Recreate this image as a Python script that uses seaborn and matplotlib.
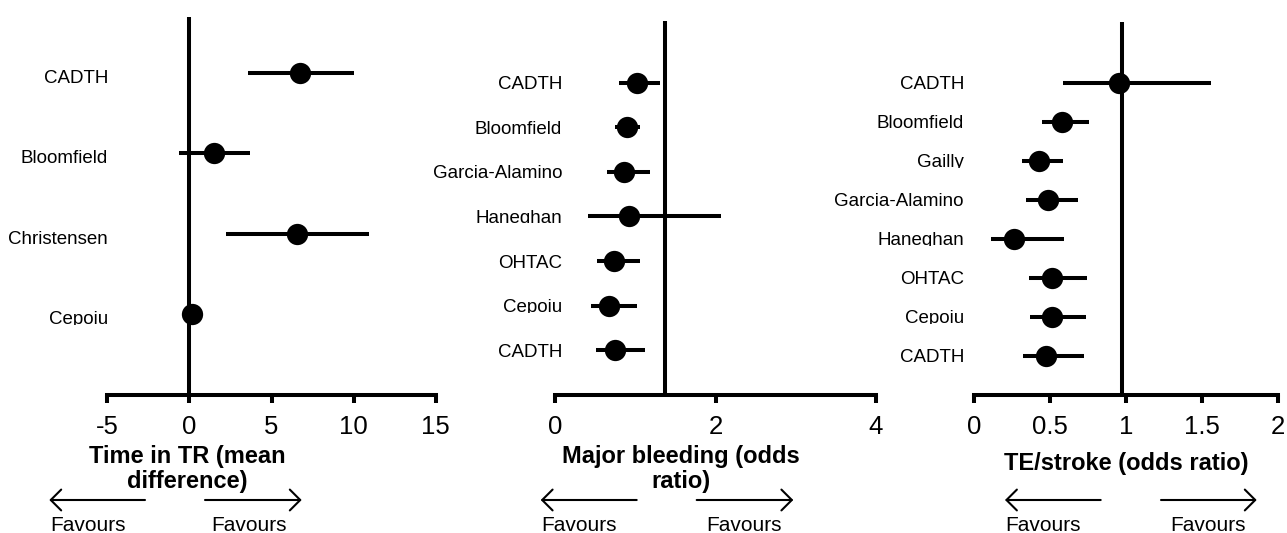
import matplotlib
matplotlib.use("Agg")
import matplotlib.pyplot as plt
import seaborn as sns
from matplotlib.transforms import blended_transform_factory, ScaledTranslation, Bbox, IdentityTransform

# ---------------- data ----------------
tr_studies = ["CADTH", "Bloomfield", "Christensen", "Cepoiu"]
tr_est = [6.76, 1.48, 6.56, 0.16]
tr_lo = [3.55, -0.65, 2.21, -0.30]
tr_hi = [10.05, 3.71, 10.92, 0.60]
tr_ticks = [-5, 0, 5, 10, 15]
tr_ref = 0
tr_label = "Time in TR (mean\ndifference)"

mb_studies = ["CADTH", "Bloomfield", "Garcia-Alamino", "Haneghan", "OHTAC", "Cepoiu", "CADTH"]
mb_est = [1.018, 0.893, 0.864, 0.926, 0.739, 0.677, 0.748]
mb_lo = [0.798, 0.748, 0.644, 0.415, 0.520, 0.449, 0.507]
mb_hi = [1.308, 1.059, 1.184, 2.069, 1.059, 1.018, 1.121]
mb_ticks = [0, 2, 4]
mb_ref = 1.371
mb_label = "Major bleeding (odds\nratio)"

te_studies = ["CADTH", "Bloomfield", "Gailly", "Garcia-Alamino", "Haneghan", "OHTAC", "Cepoiu", "CADTH"]
te_est = [0.955, 0.577, 0.429, 0.485, 0.263, 0.511, 0.511, 0.473]
te_lo = [0.583, 0.445, 0.314, 0.342, 0.112, 0.364, 0.370, 0.320]
te_hi = [1.556, 0.756, 0.583, 0.686, 0.594, 0.745, 0.736, 0.725]
te_ticks = [0, 0.5, 1, 1.5, 2]
te_ref = 0.975
te_label = "TE/stroke (odds ratio)"

favours_text = "Favours"

# ---------------- style ----------------
sns.set_style("white")
plt.rcParams["font.family"] = ["Liberation Sans", "DejaVu Sans"]
plt.rcParams["text.color"] = "black"
plt.rcParams["axes.labelcolor"] = "black"
plt.rcParams["xtick.color"] = "black"

W, H = 1287, 533
fig = plt.figure(figsize=(W / 100, H / 100), dpi=100)

# panel layout in pixels: (left, right, top, bottom), ylim margins, label offsets
panels = [
    dict(studies=tr_studies, est=tr_est, lo=tr_lo, hi=tr_hi, ticks=tr_ticks, ref=tr_ref,
         label=tr_label, box=(107.3, 435.7, 17, 395), top_m=0.69, bot_m=1.0,
         lab_dx=0.7, lab_dy=10, xl_x=187.5, xl_base=488,
         arrows=((145, 49.3), (205, 301.7)), fav=(50, 211.7)),
    dict(studies=mb_studies, est=mb_est, lo=mb_lo, hi=mb_hi, ticks=mb_ticks, ref=mb_ref,
         label=mb_label, box=(555, 876, 21, 395), top_m=1.38, bot_m=1.0,
         lab_dx=7, lab_dy=6.5, xl_x=681, xl_base=488,
         arrows=((636.7, 540.7), (696.7, 793.3)), fav=(541.7, 706.7)),
    dict(studies=te_studies, est=te_est, lo=te_lo, hi=te_hi, ticks=te_ticks, ref=te_ref,
         label=te_label, box=(974, 1278.3, 22, 395), top_m=1.57, bot_m=1.0,
         lab_dx=-10, lab_dy=6, xl_x=1126, xl_base=470,
         arrows=((1100.7, 1005), (1161, 1256.7)), fav=(1005, 1170.7)),
]

LW = 2.9  # ~4 px

for p in panels:
    l, r, t, b = p["box"]
    ax = fig.add_axes([l / W, (H - b) / H, (r - l) / W, (b - t) / H])
    n = len(p["studies"])
    pos = list(range(n))

    ax.hlines(pos, p["lo"], p["hi"], color="black", linewidth=LW, zorder=2)
    sns.scatterplot(x=p["est"], y=pos, ax=ax, s=235, color="black",
                    linewidth=0, zorder=3, legend=False)
    ax.axvline(p["ref"], color="black", linewidth=LW, zorder=1)

    ax.set_xlim(p["ticks"][0], p["ticks"][-1])
    ax.set_ylim(n - 1 + p["bot_m"], -p["top_m"])
    ax.set_xticks(p["ticks"])
    ax.set_xticklabels([f"{v:g}" for v in p["ticks"]])
    ax.set_yticks([])
    ax.set_ylabel("")
    for s in ("left", "top", "right"):
        ax.spines[s].set_visible(False)
    ax.spines["bottom"].set_linewidth(LW)
    ax.spines["bottom"].set_color("black")
    ax.tick_params(axis="x", bottom=True, direction="out", length=5.8, width=LW,
                   color="black", labelsize=18.5, pad=8.5, labelcolor="black")
    ax.patch.set_alpha(0)

    # study labels (clipped at baseline like the original)
    trans = blended_transform_factory(ax.transAxes, ax.transData) + \
        ScaledTranslation(p["lab_dx"] / 100, -p["lab_dy"] / 100, fig.dpi_scale_trans)
    for yi, name in zip(pos, p["studies"]):
        txt = ax.text(0, yi, name, transform=trans, ha="right", va="baseline",
                      fontsize=13.5, color="black")
        yb = ax.transData.transform((0, yi))[1] - p["lab_dy"]
        txt.set_clip_path(None)
        txt.set_clip_box(Bbox.from_extents(0, yb - 0.5, W, yb + 40))
        txt.set_clip_on(True)

    # x label
    ax.set_xlabel(p["label"], fontsize=17, fontweight="bold", ha="center",
                  va="baseline", linespacing=1.12, color="black")
    ax.xaxis.set_label_coords(p["xl_x"], H - p["xl_base"], transform=IdentityTransform())

    # favours arrows
    for (x0, x1) in p["arrows"]:
        ax.annotate("", xy=(x1, H - 500), xytext=(x0, H - 500),
                    xycoords="figure pixels", textcoords="figure pixels",
                    arrowprops=dict(arrowstyle="->,head_length=0.75,head_width=0.75",
                                    color="black", linewidth=1.5,
                                    shrinkA=0, shrinkB=0))
    for fx in p["fav"]:
        fig.text(fx / W, 2 / H, favours_text, ha="left", va="baseline",
                 fontsize=15, color="black")

fig.savefig("out.png", dpi=100)
